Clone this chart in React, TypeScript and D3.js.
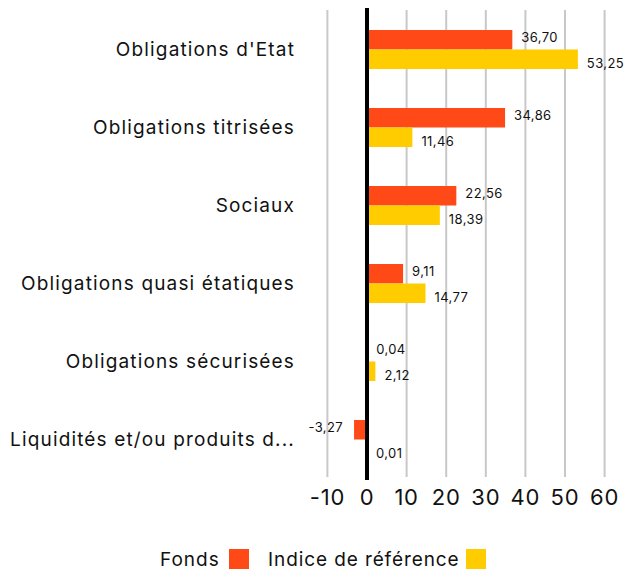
import React from 'react';
import * as d3 from 'd3';

const categories = [
  "Obligations d'Etat",
  'Obligations titrisées',
  'Sociaux',
  'Obligations quasi étatiques',
  'Obligations sécurisées',
  'Liquidités et/ou produits d...',
];
const fonds = [36.7, 34.86, 22.56, 9.11, 0.04, -3.27];
const indice = [53.25, 11.46, 18.39, 14.77, 2.12, 0.01];
const xTicks = [-10, 0, 10, 20, 30, 40, 50, 60];
const seriesNames = ['Fonds', 'Indice de référence'];
const colors = ['#FF4A17', '#FFCC00'];

const FONT = 'Inter, "Open Sans", sans-serif';

const fmt = (v: number) => v.toFixed(2).replace('.', ',');

export default function App() {
  const width = 625;
  const height = 574;

  // Échelles
  const x = d3.scaleLinear().domain([-10, 60]).range([327.4, 604.6]);
  const y = d3
    .scaleBand<string>()
    .domain(categories)
    .range([10.5, 478.5])
    .paddingInner(0.5)
    .paddingOuter(0.25);
  const sub = d3.scaleBand<number>().domain([0, 1]).range([0, y.bandwidth()]);

  const series = [fonds, indice];

  return (
    <svg
      width={width}
      height={height}
      style={{ position: 'absolute', left: 0, top: 0 }}
      fontFamily={FONT}
    >
      {/* Grille */}
      {xTicks
        .filter((t) => t !== 0)
        .map((t) => (
          <line
            key={t}
            x1={x(t)}
            x2={x(t)}
            y1={10}
            y2={477}
            stroke="#c8c8c8"
            strokeWidth={2}
          />
        ))}

      {/* Barres */}
      {categories.map((c, i) =>
        series.map((s, k) => {
          const v = s[i];
          const y0 = (y(c) as number) + (sub(k) as number);
          const h = sub.bandwidth();
          const x0 = Math.min(x(0), x(v));
          const w = Math.abs(x(v) - x(0));
          const pos = v >= 0;
          const ly = y0 + h / 2 + (k === 0 ? -2 : 4);
          return (
            <g key={c + k}>
              <rect x={x0} y={y0} width={w} height={h} fill={colors[k]} />
              <text
                x={pos ? x(v) + 9 : x(v) - 11}
                y={ly}
                dy="0.35em"
                fontSize={13}
                letterSpacing={0.4}
                fill="#111"
                textAnchor={pos ? 'start' : 'end'}
              >
                {fmt(v)}
              </text>
            </g>
          );
        })
      )}

      {/* Ligne zéro */}
      <line x1={x(0)} x2={x(0)} y1={8} y2={480} stroke="#000" strokeWidth={4} />

      {/* Libellés des catégories */}
      {categories.map((c) => (
        <text
          key={c}
          x={295}
          y={(y(c) as number) + y.bandwidth() / 2}
          dy="0.35em"
          textAnchor="end"
          fontSize={19}
          letterSpacing={1.15}
          fill="#111"
        >
          {c}
        </text>
      ))}

      {/* Axe X */}
      {xTicks.map((t) => (
        <text
          key={t}
          x={x(t)}
          y={497}
          dy="0.35em"
          textAnchor="middle"
          fontSize={22}
          letterSpacing={0.8}
          fill="#111"
        >
          {t}
        </text>
      ))}

      {/* Légende */}
      <text x={160} y={566} fontSize={19} letterSpacing={1} fill="#111">
        {seriesNames[0]}
      </text>
      <rect x={229} y={549} width={20} height={20} fill={colors[0]} />
      <text x={268} y={566} fontSize={19} letterSpacing={0.9} fill="#111">
        {seriesNames[1]}
      </text>
      <rect x={466} y={549} width={20} height={20} fill={colors[1]} />
    </svg>
  );
}
